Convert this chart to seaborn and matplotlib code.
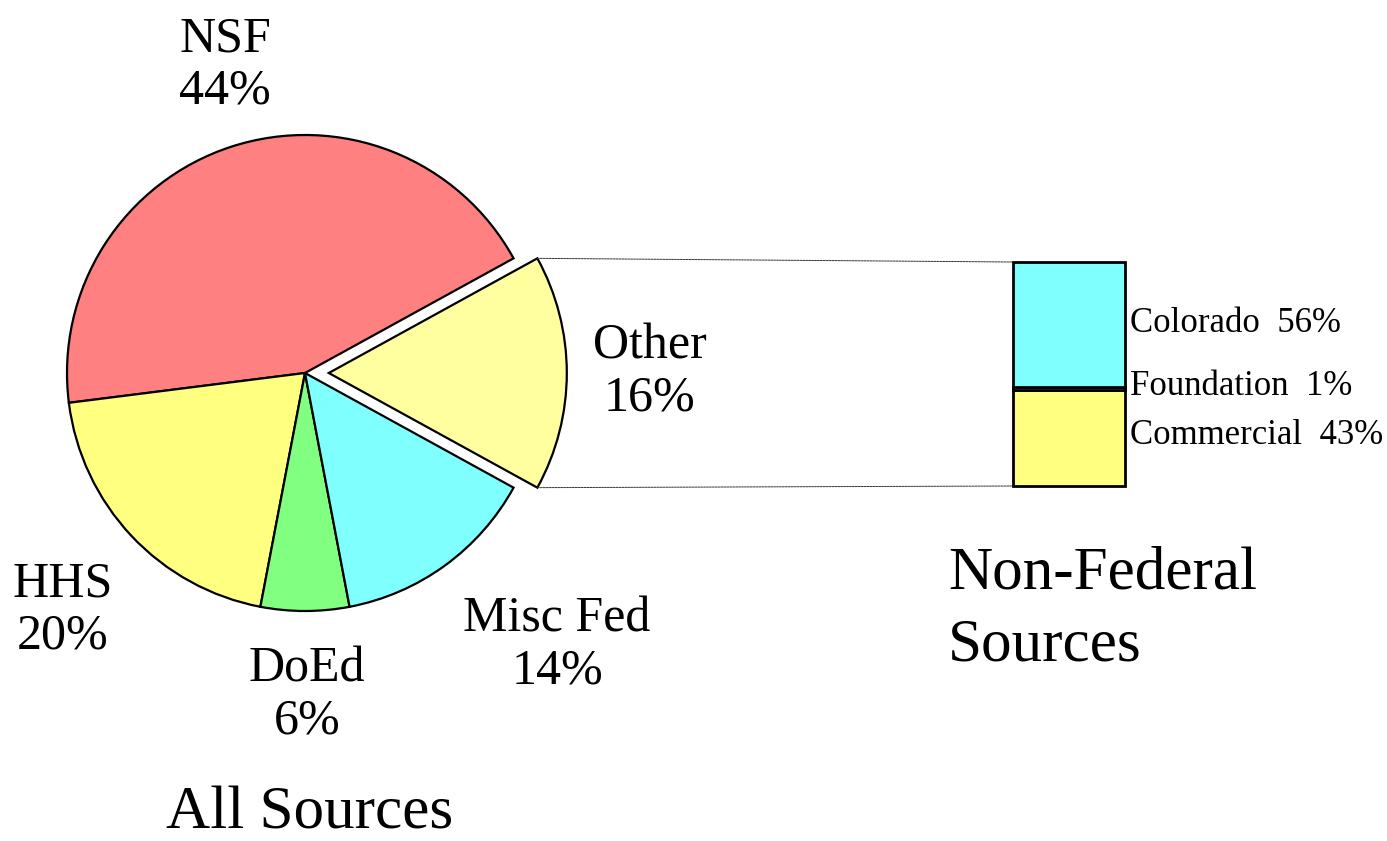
import matplotlib
matplotlib.use("Agg")
import matplotlib.pyplot as plt
from matplotlib.patches import ConnectionPatch
import numpy as np
import seaborn as sns

# --- data ---
all_labels = ["Other", "NSF", "HHS", "DoEd", "Misc Fed"]
all_values = [16, 44, 20, 6, 14]
all_colors = ["#FFFFA0", "#FF8080", "#FFFF80", "#80FF80", "#80FFFF"]

nonfed_labels = ["Commercial", "Foundation", "Colorado"]
nonfed_values = [43, 1, 56]
nonfed_colors = ["#FFFF80", "#FFFFFF", "#80FFFF"]

sns.set_theme(style="white")
plt.rcParams["font.family"] = ["Liberation Serif", "DejaVu Serif"]
plt.rcParams["text.color"] = "black"

W, H = 1387, 841
fig = plt.figure(figsize=(W / 100, H / 100), dpi=100)
ax = fig.add_axes([0, 0, 1, 1])

# pie in pixel-like coords (y up); explode is in data units here
radius = 238
start = -all_values[0] / 100 * 360 / 2
wedges, _ = ax.pie(all_values, colors=all_colors,
                   explode=[0.1 * radius, 0, 0, 0, 0],
                   startangle=start, counterclock=True,
                   center=(305, H - 373), radius=radius,
                   wedgeprops=dict(edgecolor="black", linewidth=1.6))
ax.set_xlim(0, W)
ax.set_ylim(0, H)
ax.set_aspect("equal")
ax.axis("off")

# pie labels
label_pos = {"NSF": (225, 65), "Other": (650, 372), "Misc Fed": (557, 645),
             "DoEd": (307, 695), "HHS": (63, 610)}
for lab, val in zip(all_labels, all_values):
    x, y = label_pos[lab]
    ax.text(x, H - y, f"{lab}\n{val}%", ha="center", va="center",
            fontsize=36, linespacing=1.15)

ax.text(310, H - 814, "All Sources", ha="center", va="center", fontsize=44)
ax.text(948, H - 610, "Non-Federal\nSources", ha="left", va="center",
        fontsize=44, linespacing=1.38)

# stacked bar for non-federal sources
bx = fig.add_axes([1013 / W, (H - 486) / H, 112 / W, 224 / H])
bottom = 0
for lab, val, col in zip(nonfed_labels, nonfed_values, nonfed_colors):
    bx.bar(0, val, width=1, bottom=bottom, color=col, edgecolor="black",
           linewidth=2, clip_on=False)
    bottom += val
bx.set_xlim(-0.5, 0.5)
bx.set_ylim(0, 100)
bx.axis("off")

bar_label_y = {"Colorado": 323, "Foundation": 386, "Commercial": 435}
for lab, val in zip(nonfed_labels, nonfed_values):
    ax.text(1130, H - bar_label_y[lab], f"{lab}  {val}%", ha="left",
            va="center", fontsize=25)

# connector lines from exploded wedge to bar
w = wedges[0]
cx, cy = w.center
for theta, yb in [(w.theta2, 100), (w.theta1, 0)]:
    p = (cx + w.r * np.cos(np.radians(theta)), cy + w.r * np.sin(np.radians(theta)))
    con = ConnectionPatch(xyA=p, coordsA=ax.transData, xyB=(-0.5, yb),
                          coordsB=bx.transData, color="#333333",
                          linewidth=0.7, linestyle=(0, (2, 1)))
    fig.add_artist(con)

fig.savefig("out.png", dpi=100)
